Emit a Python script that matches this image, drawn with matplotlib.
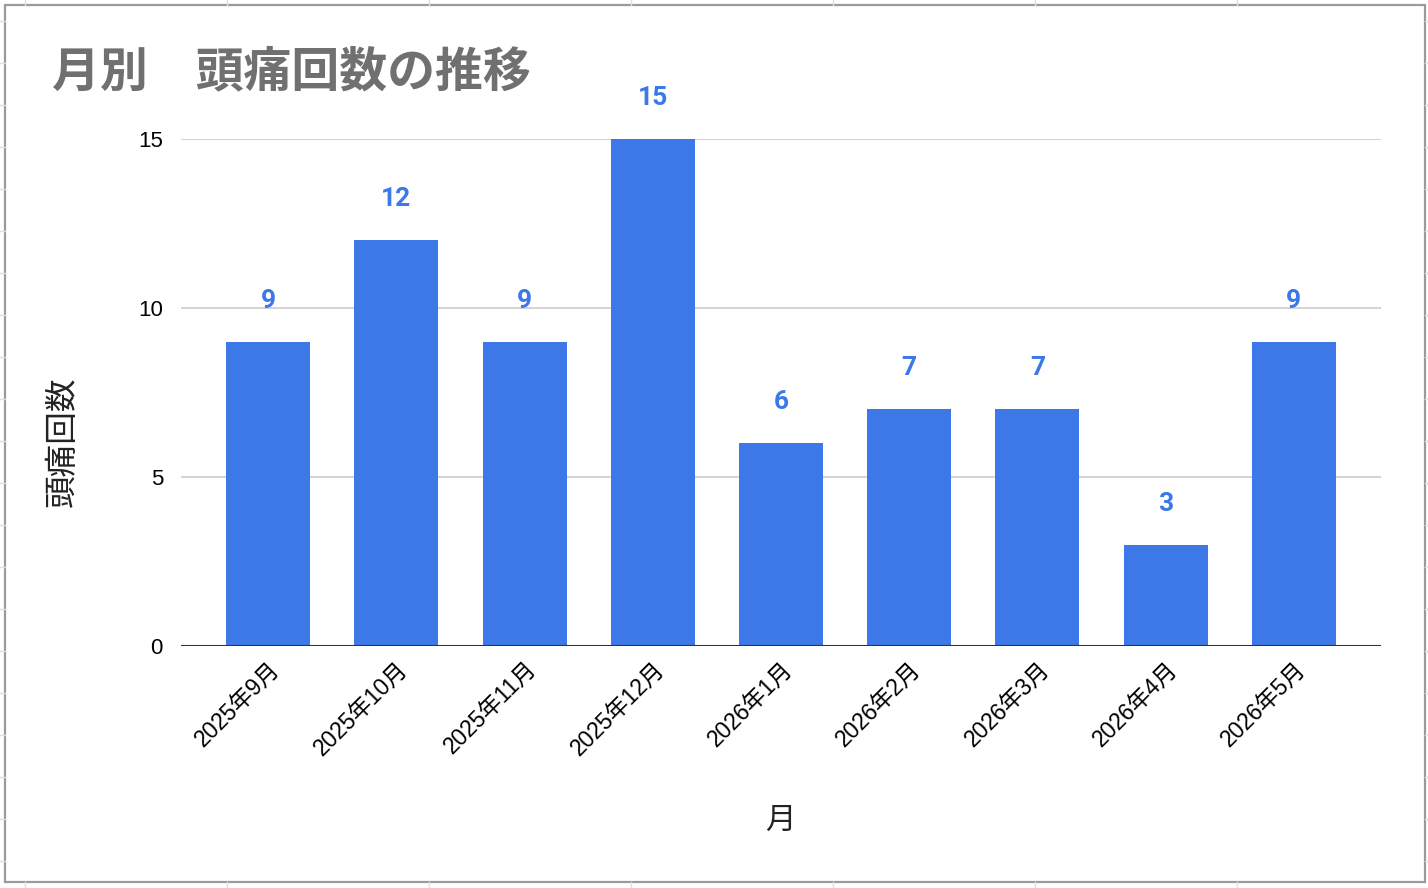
import matplotlib
matplotlib.use('Agg')
import matplotlib.pyplot as plt
from matplotlib.patches import Rectangle
from matplotlib.lines import Line2D

months = ['2025年9月', '2025年10月', '2025年11月', '2025年12月', '2026年1月',
          '2026年2月', '2026年3月', '2026年4月', '2026年5月']
counts = [9, 12, 9, 15, 6, 7, 7, 3, 9]
y_ticks = [0, 5, 10, 15]

title = '月別　頭痛回数の推移'
x_label = '月'
y_label = '頭痛回数'

blue = '#3c78e8'
jp = ['Liberation Sans', 'Noto Sans CJK JP']

W, H = 1428, 888
fig = plt.figure(figsize=(W / 100, H / 100), dpi=100)
fig.patch.set_facecolor('white')

# spreadsheet cells peeking out around the chart
for x in range(25, W, 202):
    fig.add_artist(Line2D([x / W, x / W], [1 - 5 / H, 1], color='#e0e0e0', lw=1))
    fig.add_artist(Line2D([x / W, x / W], [0, 6 / H], color='#e0e0e0', lw=1))
for y in range(21, H, 42):
    fig.add_artist(Line2D([0, 5 / W], [1 - y / H, 1 - y / H], color='#e0e0e0', lw=1))
    fig.add_artist(Line2D([1 - 3 / W, 1], [1 - y / H, 1 - y / H], color='#e0e0e0', lw=1))

# chart frame
fig.add_artist(Rectangle((5 / W, 6 / H), 1420 / W, 877 / H, transform=fig.transFigure,
                         facecolor='white', edgecolor='#9a9a9a', lw=1.6, zorder=0))

ax = fig.add_axes([181 / W, (H - 646) / H, 1200 / W, (646 - 139) / H])
ax.set_facecolor('none')

x = range(len(months))
bars = ax.bar(x, counts, width=0.656, color=blue, zorder=3)

for b, v in zip(bars, counts):
    ax.annotate(str(v), (b.get_x() + b.get_width() / 2, v), xytext=(0, 29.5),
                textcoords='offset points', ha='center', va='center',
                fontsize=19, fontweight='bold', color=blue, family='Roboto')

ax.set_xlim(-0.68, len(months) - 1 + 0.68)
ax.set_ylim(0, 15)
ax.set_yticks(y_ticks)
ax.set_yticklabels([str(t) for t in y_ticks], family=jp, fontsize=16)
ax.set_xticks(list(x))
ax.set_xticklabels(months, rotation=45, ha='right', rotation_mode='anchor',
                   family=jp, fontsize=16.5)
ax.tick_params(length=0)
ax.tick_params(axis='y', pad=13)
ax.tick_params(axis='x', pad=8)

for t in y_ticks[1:]:
    ax.axhline(t, color='#cccccc', lw=1.2, zorder=1)
ax.axhline(0, color='#333333', lw=1.5, zorder=4)

for s in ax.spines.values():
    s.set_visible(False)

fig.text(52 / W, 1 - 72 / H, title, family='Noto Sans CJK JP', fontweight='bold',
         fontsize=34.5, color='#707070', ha='left', va='center')
fig.text(63 / W, 1 - 442 / H, y_label, family='Noto Sans CJK JP', fontsize=23.5,
         rotation=90, ha='center', va='center', color='#222222')
fig.text(780 / W, 1 - 820 / H, x_label, family='Noto Sans CJK JP', fontsize=22,
         ha='center', va='center', color='#222222')

fig.savefig('out.png', dpi=100)
